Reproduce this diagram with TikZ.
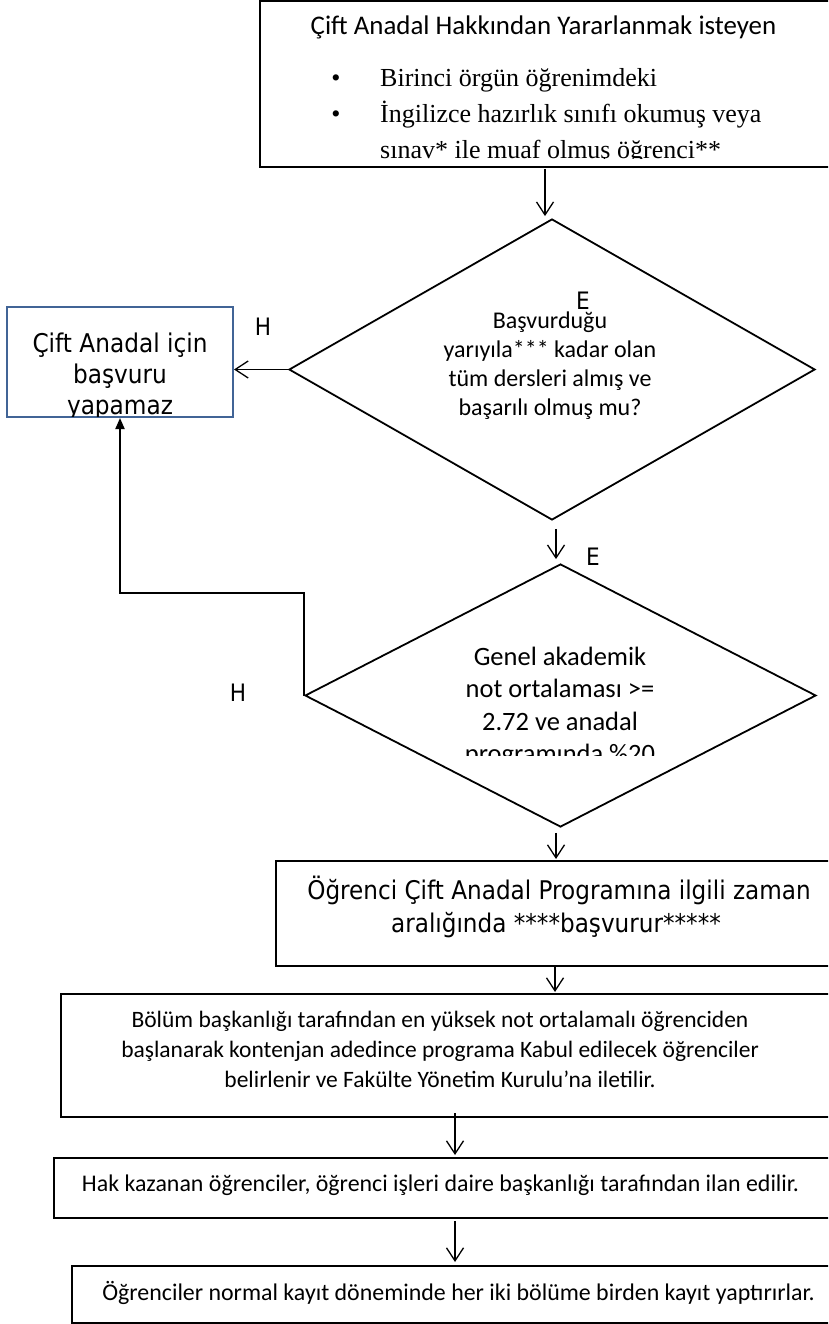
\documentclass[tikz,border=0pt]{standalone}
\usepackage{fontspec}
\usetikzlibrary{shapes.geometric,arrows.meta,calc}
\newfontfamily\calib{Carlito}
\newfontfamily\tahsans[FakeStretch=0.9]{DejaVu Sans}
\newfontfamily\timesf{Liberation Serif}
\definecolor{outlineblue}{RGB}{65,100,150}

\tikzset{
  box/.style={draw=black, line width=2pt, rectangle, inner sep=0pt},
  bluebox/.style={draw=outlineblue, line width=2pt, rectangle, inner sep=0pt},
  decision/.style={draw=black, line width=1.8pt, diamond, inner sep=0pt},
  flow/.style={line width=1.3pt, -{Straight Barb[length=13pt,width=17pt]}},
  back/.style={line width=2pt, -{Triangle[length=11pt,width=9pt]}},
  ln/.style={inner sep=0pt, anchor=base},
  lnw/.style={inner sep=0pt, anchor=base west},
  cal/.style={font=\calib\fontsize{#1}{#1}\selectfont},
  tah/.style={font=\tahsans\fontsize{#1}{#1}\selectfont},
  tms/.style={font=\timesf\fontsize{#1}{#1}\selectfont},
}

\begin{document}
\begin{tikzpicture}[x=1pt,y=-1pt]
\useasboundingbox (0,0) rectangle (828,1324);
\clip (0,0) rectangle (828,1324);
\fill[white] (0,0) rectangle (828,1324);

% ---- shapes ----
\node[box, minimum width=580pt, minimum height=166pt] (start) at (550,84) {};
\node[decision, minimum width=526pt, minimum height=301pt] (d1) at (552,369.5) {};
\node[bluebox, minimum width=226pt, minimum height=110pt] (nobox) at (120,362) {};
\node[decision, minimum width=511pt, minimum height=263pt] (d2) at (560.5,695.5) {};
\node[box, minimum width=564pt, minimum height=105pt] (apply) at (558,913.5) {};
\node[box, minimum width=779pt, minimum height=123pt] (select) at (450.5,1055.5) {};
\node[box, minimum width=786pt, minimum height=60pt] (announce) at (447,1188) {};
\node[box, minimum width=768pt, minimum height=57pt] (enrol) at (456,1294.5) {};

% ---- texts ----
\begin{scope}
  \clip (260,0) rectangle (840,158.5);
  \node[ln, cal=26.9] (t0) at (543.5,35) {Çift Anadal Hakkından Yararlanmak isteyen};
  \node[ln, tms=26] (b1) at (336,87) {•};
  \node[lnw, tms=26] (t1) at (380,87) {Birinci örgün öğrenimdeki};
  \node[ln, tms=26] (b2) at (336,123) {•};
  \node[lnw, tms=26] (t2) at (380,123) {İngilizce hazırlık sınıfı okumuş veya};
  \node[lnw, tms=26] (t3) at (380,159) {sınav* ile muaf olmuş öğrenci**};
\end{scope}

\node[ln, cal=24] (q1a) at (550,328) {Başvurduğu};
\node[ln, cal=24] (q1b) at (550,357) {yarıyıla*** kadar olan};
\node[ln, cal=24] (q1c) at (550,386) {tüm dersleri almış ve};
\node[ln, cal=24] (q1d) at (550,415) {başarılı olmuş mu?};

\begin{scope}
  \clip (300,560) rectangle (830,755);
  \node[ln, cal=26.5] (q2a) at (560,665) {Genel akademik};
  \node[ln, cal=26.5] (q2b) at (560,697.5) {not ortalaması >=};
  \node[ln, cal=26.5] (q2c) at (560,730) {2.72 ve anadal};
  \node[ln, cal=26.5] (q2d) at (560,762.5) {programında \%20};
\end{scope}

\begin{scope}
  \clip (8,308) rectangle (232,416);
  \node[ln, tah=25.8] (n1) at (120,352) {Çift Anadal için};
  \node[ln, tah=25.8] (n2) at (120,383) {başvuru};
  \node[ln, tah=25.8] (n3) at (120,414) {yapamaz};
\end{scope}

\node[ln, tah=25.7] (p1) at (559,899) {Öğrenci Çift Anadal Programına ilgili zaman};
\node[ln, tah=25.7] (p2) at (556,932) {aralığında ****başvurur*****};

\node[ln, cal=23.5] (s1) at (440,1027) {Bölüm başkanlığı tarafından en yüksek not ortalamalı öğrenciden};
\node[ln, cal=23.5] (s2) at (440,1057) {başlanarak kontenjan adedince programa Kabul edilecek öğrenciler};
\node[ln, cal=23.5] (s3) at (440,1087) {belirlenir ve Fakülte Yönetim Kurulu’na iletilir.};

\node[ln, cal=23.9] (a1t) at (440.5,1191) {Hak kazanan öğrenciler, öğrenci işleri daire başkanlığı tarafından ilan edilir.};
\node[ln, cal=23.9] (e1t) at (458.5,1300) {Öğrenciler normal kayıt döneminde her iki bölüme birden kayıt yaptırırlar.};

% ---- branch labels ----
\node[ln, tah=24] (h1) at (263,335) {H};
\node[ln, tah=24] (h2) at (238,701) {H};
\node[ln, tah=24] (e1) at (583,309) {E};
\node[ln, tah=24] (e2) at (593,565) {E};

% ---- connectors ----
\draw[flow] ($(start.south)+(-5,1)$) -- ($(d1.north)+(-7,-2)$);
\draw[flow] (d1.west) -- (d1.west -| nobox.east);
\draw[flow] ($(d1.south)+(4,8)$) -- ($(d2.north)+(-4.5,-4)$);
\draw[back] (d2.west) -- ($(d2.west)+(0,-103)$) -| (nobox.south);
\draw[flow] ($(d2.south)+(-4.5,5)$) -- ($(apply.north)+(-2,-1)$);
\coordinate (c1) at ($(apply.south)+(-3,-2)$);
\draw[flow] (c1) -- ($(c1 |- select.north)+(0,-1)$);
\coordinate (c2) at ($(select.south)+(4.5,-5)$);
\draw[flow] (c2) -- ($(c2 |- announce.north)+(0,-2)$);
\coordinate (c3) at ($(announce.south)+(8,2)$);
\draw[flow] (c3) -- ($(c3 |- enrol.north)+(0,-3)$);
\end{tikzpicture}
\end{document}
